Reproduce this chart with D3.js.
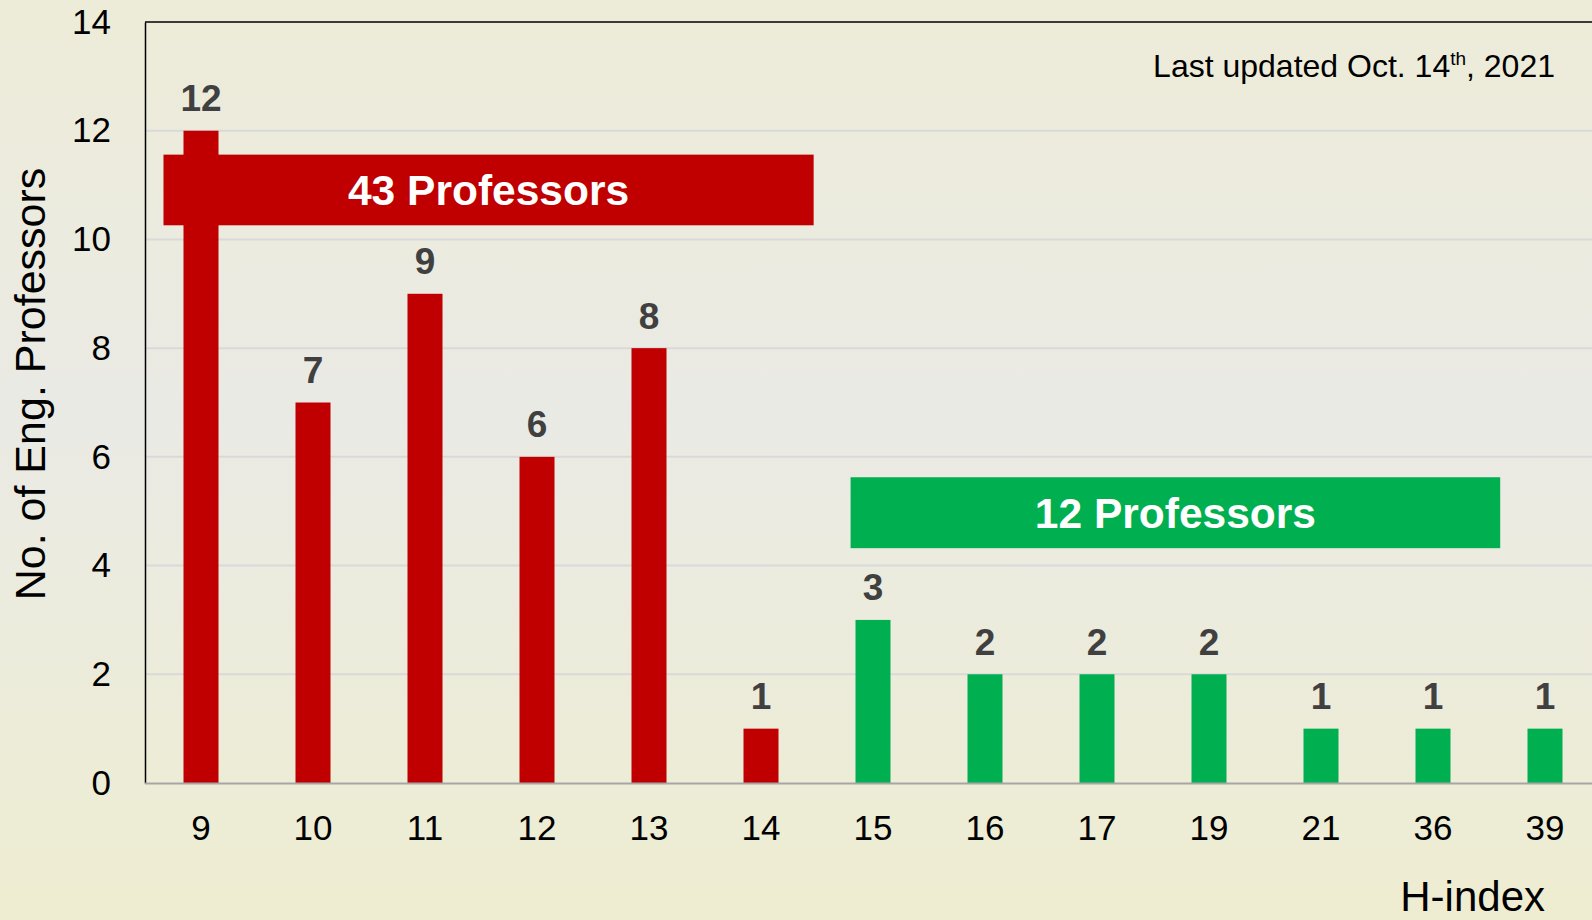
<!DOCTYPE html>
<html>
<head>
<meta charset="utf-8">
<script src="https://cdn.jsdelivr.net/npm/d3@7"></script>
<style>
	body { margin: 0; overflow: hidden; }
	svg { display: block; font-family: "Liberation Sans", Arial, sans-serif; }
	.tick text { fill: #000; }
</style>
</head>
<body>
<svg></svg>
<script>
//* Data
const hIndex = ["9", "10", "11", "12", "13", "14", "15", "16", "17", "19", "21", "36", "39"];
const professors = [12, 7, 9, 6, 8, 1, 3, 2, 2, 2, 1, 1, 1];
const groupOf = ["a", "a", "a", "a", "a", "a", "b", "b", "b", "b", "b", "b", "b"];
const groupLabels = ["43 Professors", "12 Professors"];
const yTicks = [0, 2, 4, 6, 8, 10, 12, 14];

const width = 1592;
const height = 920;
const margin = { left: 145, top: 22, bottom: 137 };

const svg = d3.select("svg");
svg.attr("width", width).attr("height", height);

//* Background gradient
const defs = svg.append("defs");
const grad = defs
	.append("linearGradient")
	.attr("id", "bg")
	.attr("x1", 0)
	.attr("y1", 0)
	.attr("x2", 0)
	.attr("y2", 1);
grad.append("stop").attr("offset", "0%").attr("stop-color", "#edecd8");
grad.append("stop").attr("offset", "45%").attr("stop-color", "#eaeae5");
grad.append("stop").attr("offset", "100%").attr("stop-color", "#eeedd1");
svg.append("rect").attr("width", width).attr("height", height).attr("fill", "url(#bg)");

//* Scales
const x = d3
	.scaleBand()
	.domain(hIndex)
	.range([margin.left, margin.left + 112 * hIndex.length])
	.paddingInner(0.6875)
	.paddingOuter(0.34375);
const idx = d3
	.scaleLinear()
	.domain([0, hIndex.length])
	.range([margin.left, margin.left + 112 * hIndex.length]);
const y = d3.scaleLinear().domain([0, 14]).range([height - margin.bottom, margin.top]);
const colors = { a: "#c00000", b: "#00b050" };

//* Grid lines
svg
	.append("g")
	.selectAll("line")
	.data(yTicks.filter((d) => d > 0 && d < 14))
	.enter()
	.append("line")
	.attr("x1", margin.left)
	.attr("x2", width)
	.attr("y1", (d) => y(d))
	.attr("y2", (d) => y(d))
	.attr("stroke", "#d9d9d9")
	.attr("stroke-width", 2);

//* Top border
svg
	.append("line")
	.attr("x1", margin.left)
	.attr("x2", width)
	.attr("y1", y(14))
	.attr("y2", y(14))
	.attr("stroke", "#000")
	.attr("stroke-width", 1.5);

//* Bars
svg
	.append("g")
	.selectAll("rect")
	.data(professors)
	.enter()
	.append("rect")
	.attr("x", (_, i) => x(hIndex[i]))
	.attr("y", (d) => y(d))
	.attr("width", x.bandwidth())
	.attr("height", (d) => y(0) - y(d))
	.attr("fill", (_, i) => colors[groupOf[i]]);

//* Value labels
svg
	.append("g")
	.selectAll("text")
	.data(professors)
	.enter()
	.append("text")
	.attr("x", (_, i) => x(hIndex[i]) + x.bandwidth() / 2)
	.attr("y", (d) => y(d) - 19.5)
	.attr("text-anchor", "middle")
	.attr("font-size", 37)
	.attr("font-weight", "bold")
	.attr("fill", "#404040")
	.text((d) => d);

//* Group banners (span in bar index units, height in value units)
const banners = [
	{ from: 0.165, to: 5.97, top: 11.56, bottom: 10.26, group: "a" },
	{ from: 6.3, to: 12.1, top: 5.625, bottom: 4.32, group: "b" },
];
const bannerGroups = svg
	.selectAll("g.banner")
	.data(banners)
	.enter()
	.append("g")
	.attr("class", "banner");
bannerGroups
	.append("rect")
	.attr("x", (d) => idx(d.from))
	.attr("y", (d) => y(d.top))
	.attr("width", (d) => idx(d.to) - idx(d.from))
	.attr("height", (d) => y(d.bottom) - y(d.top))
	.attr("fill", (d) => colors[d.group]);
bannerGroups
	.append("text")
	.attr("x", (d) => (idx(d.from) + idx(d.to)) / 2)
	.attr("y", (d) => (y(d.top) + y(d.bottom)) / 2)
	.attr("dy", "0.36em")
	.attr("text-anchor", "middle")
	.attr("font-size", 42.5)
	.attr("font-weight", "bold")
	.attr("fill", "#fff")
	.text((_, i) => groupLabels[i]);

//* Axes
const yAxis = svg
	.append("g")
	.attr("transform", `translate(${margin.left}, 0)`)
	.call(d3.axisLeft(y).tickValues(yTicks).tickSize(0).tickPadding(34));
yAxis.select(".domain").attr("stroke", "#000").attr("stroke-width", 1.5);
yAxis.selectAll(".tick text").attr("font-size", 35).attr("font-family", null);

const xAxis = svg
	.append("g")
	.attr("transform", `translate(0, ${y(0)})`)
	.call(d3.axisBottom(x).tickSize(0).tickPadding(32));
xAxis.select(".domain").remove();
xAxis.selectAll(".tick text").attr("font-size", 35).attr("font-family", null);

//* Baseline
svg
	.append("line")
	.attr("x1", margin.left)
	.attr("x2", width)
	.attr("y1", y(0) + 0.5)
	.attr("y2", y(0) + 0.5)
	.attr("stroke", "#a6a6a6")
	.attr("stroke-width", 2);

//* Axis titles
svg
	.append("text")
	.attr("transform", `translate(45, 384) rotate(-90)`)
	.attr("text-anchor", "middle")
	.attr("font-size", 43)
	.attr("fill", "#000")
	.text("No. of Eng. Professors");
svg
	.append("text")
	.attr("x", 1545)
	.attr("y", 911)
	.attr("text-anchor", "end")
	.attr("font-size", 42)
	.attr("fill", "#000")
	.text("H-index");

//* Update note
const note = svg
	.append("text")
	.attr("x", 1555)
	.attr("y", 77)
	.attr("text-anchor", "end")
	.attr("font-size", 32)
	.attr("fill", "#000");
note.append("tspan").text("Last updated Oct. 14");
note.append("tspan").attr("font-size", 19).attr("dy", -12).text("th");
note.append("tspan").attr("dy", 12).text(", 2021");
</script>
</body>
</html>
